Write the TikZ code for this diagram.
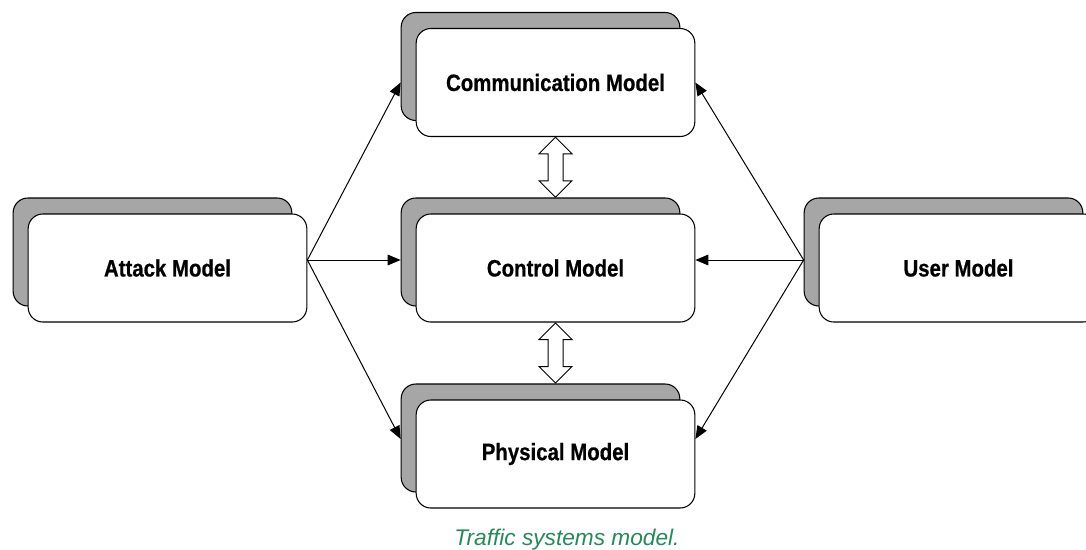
\documentclass[tikz,border=0pt]{standalone}
\usepackage{fontspec}
\setmainfont{Liberation Sans}
\newfontfamily\modelfont[FakeStretch=0.86, BoldFeatures={FakeBold=0.6}]{Liberation Sans}
\usetikzlibrary{
    calc,
    arrows.meta,
    shapes.arrows,
    shadows
}
\definecolor{shadowgray}{RGB}{166,166,166}
\definecolor{captiongreen}{RGB}{34,139,87}
\tikzset{
    model/.style={
        draw, fill=white, line width=0.8pt, rounded corners=11pt,
        minimum width=209pt, minimum height=81pt, inner sep=0pt,
        font=\modelfont\bfseries\fontsize{17.8}{20}\selectfont,
        copy shadow={shadow xshift=-11.25pt, shadow yshift=12pt,
            fill=shadowgray, draw=black, line width=0.8pt}
    },
    link/.style={-{Triangle[length=9.75pt, width=8pt]}, line width=0.75pt},
    twoway/.style={
        shape=double arrow, draw, fill=white, line width=0.75pt, rotate=90,
        inner xsep=0pt, inner ysep=5.25pt, minimum width=24pt, minimum height=45pt,
        double arrow head extend=6.75pt
    },
    caption/.style={text=captiongreen, font=\itshape\fontsize{17}{20}\selectfont}
}

\begin{document}
\begin{tikzpicture}[x=0.75pt, y=-0.75pt]
    \useasboundingbox (0,0) rectangle (1086,550);
    \draw (555.5,82.5) node[model](comm){Communication Model};
    \draw (555.5,268) node[model](ctrl){Control Model};
    \draw (555.5,454) node[model](phys){Physical Model};
    \draw (167.5,268) node[model](attack){Attack Model};
    \draw (958.5,268) node[model](user){User Model};
    % fan-out points
    \coordinate (attack out) at ([yshift=6pt]attack.east);
    \coordinate (user out) at ([xshift=-11.25pt, yshift=6pt]user.west);
    \draw[link] (attack out) -- ([xshift=-11.25pt]comm.west);
    \draw[link] (attack out) -- ([xshift=-11.25pt, yshift=6pt]ctrl.west);
    \draw[link] (attack out) -- ([xshift=-11.25pt, yshift=11.25pt]phys.west);
    \draw[link] (user out) -- (comm.east);
    \draw[link] (user out) -- ([yshift=6pt]ctrl.east);
    \draw[link] (user out) -- ([yshift=11.25pt]phys.east);
    % two-way links
    \node[twoway] (commctrl) at ($(comm.south)!0.5!([yshift=12pt]ctrl.north)$) {};
    \node[twoway] (ctrlphys) at ($(ctrl.south)!0.5!([yshift=12pt]phys.north)$) {};
    \draw (567,545) node[caption, anchor=base](caption){Traffic systems model.};
\end{tikzpicture}
\end{document}
